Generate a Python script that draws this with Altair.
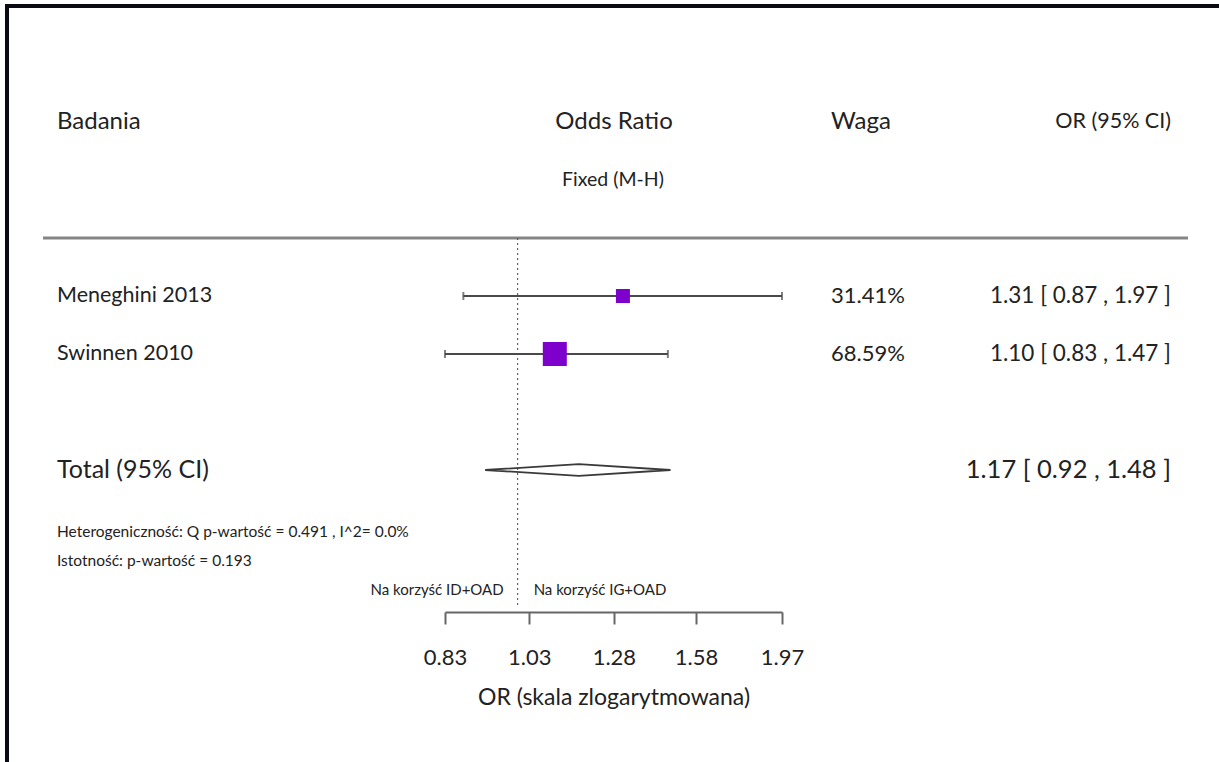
import altair as alt
import pandas as pd

# Study-level results
studies = ["Meneghini 2013", "Swinnen 2010"]
odds_ratio = [1.31, 1.10]
ci_low = [0.87, 0.83]
ci_high = [1.97, 1.47]
weights = [31.41, 68.59]

# Pooled (fixed effect, Mantel-Haenszel) result
total_label = "Total (95% CI)"
total_or = 1.17
total_low = 0.92
total_high = 1.48

axis_ticks = [0.83, 1.03, 1.28, 1.58, 1.97]

heterogeneity = "Heterogeniczność: Q p-wartość = 0.491 , I^2= 0.0%"
significance = "Istotność: p-wartość = 0.193"
favours_left = "Na korzyść ID+OAD"
favours_right = "Na korzyść IG+OAD"

FONT = "Lato"
TEXT = "#222222"
LINE = "#4a4a4a"
PURPLE = "#7d00cc"

W, H = 1219, 762

# ---- tables -------------------------------------------------------------
rows = list(range(len(studies)))
total_row = len(studies) + 1

study_df = pd.DataFrame({
    "study": studies,
    "or": odds_ratio,
    "lo": ci_low,
    "hi": ci_high,
    "weight": weights,
    "row": rows,
})
study_df["weight_txt"] = [f"{w:.2f}%" for w in weights]
study_df["ci_txt"] = [f"{o:.2f} [ {l:.2f} , {h:.2f} ]" for o, l, h in zip(odds_ratio, ci_low, ci_high)]

total_df = pd.DataFrame({
    "label": [total_label],
    "row": [total_row],
    "ci_txt": [f"{total_or:.2f} [ {total_low:.2f} , {total_high:.2f} ]"],
})

half = 0.1  # half height of the pooled diamond, in rows
diamond_df = pd.DataFrame({
    "or": [total_low, total_or, total_high, total_or, total_low],
    "row": [total_row, total_row - half, total_row, total_row + half, total_row],
    "k": [0, 1, 2, 3, 4],
})

null_df = pd.DataFrame({"or": [1.0]})

# ---- shared scales ------------------------------------------------------
x_scale = alt.Scale(type="log", domain=[min(axis_ticks), max(axis_ticks)], range=[445, 782])
y_scale = alt.Scale(domain=[0, 1], range=[296, 354])

x_axis = alt.Axis(
    values=axis_ticks, format=".2f", title="OR (skala zlogarytmowana)",
    orient="bottom", offset=-150, grid=False,
    domainColor="#666666", domainWidth=2, tickColor="#666666", tickWidth=2, tickSize=12,
    labelFont=FONT, labelFontSize=22, labelColor=TEXT, labelPadding=23,
    labelFlush=False, labelOverlap=False,
    titleFont=FONT, titleFontSize=23, titleFontWeight="normal", titleColor=TEXT, titlePadding=18,
)


def xq(field):
    return alt.X(f"{field}:Q", scale=x_scale, axis=x_axis)


def yq(field="row"):
    return alt.Y(f"{field}:Q", scale=y_scale, axis=None)


base = alt.Chart(study_df)

ci_lines = base.mark_rule(color=LINE, strokeWidth=2).encode(
    x=xq("lo"), x2="hi:Q", y=yq()
)

caps = base.transform_fold(["lo", "hi"], as_=["end", "val"]).mark_tick(
    orient="vertical", color=LINE, size=8, thickness=2
).encode(x=xq("val"), y=yq())

squares = base.mark_square(color=PURPLE, opacity=1).encode(
    x=xq("or"), y=yq(),
    size=alt.Size("weight:Q", scale=alt.Scale(domain=[min(weights), max(weights)], range=[196, 576]), legend=None),
)

diamond = alt.Chart(diamond_df).mark_line(color="#3a3a3a", strokeWidth=1.8).encode(
    x=xq("or"), y=yq(), order="k:Q"
)

null_line = alt.Chart(null_df).mark_rule(color=LINE, strokeWidth=1, strokeDash=[2, 3]).encode(
    x=xq("or"), y=alt.value(238), y2=alt.value(607)
)

fav_left = alt.Chart(null_df).mark_text(
    text=favours_left, font=FONT, fontSize=15, color=TEXT, align="right", baseline="middle", dx=-14
).encode(x=xq("or"), y=alt.value(590))

fav_right = alt.Chart(null_df).mark_text(
    text=favours_right, font=FONT, fontSize=15, color=TEXT, align="left", baseline="middle", dx=16
).encode(x=xq("or"), y=alt.value(590))

# ---- text columns -------------------------------------------------------
name_txt = base.mark_text(font=FONT, fontSize=21.5, color=TEXT, align="left", baseline="middle").encode(
    x=alt.value(57), y=yq(), text="study:N"
)
weight_txt = base.mark_text(font=FONT, fontSize=22, color=TEXT, align="left", baseline="middle").encode(
    x=alt.value(831), y=yq(), text="weight_txt:N"
)
ci_txt = base.mark_text(font=FONT, fontSize=22.5, color=TEXT, align="right", baseline="middle").encode(
    x=alt.value(1171), y=yq(), text="ci_txt:N"
)

tot = alt.Chart(total_df)
total_name = tot.mark_text(font=FONT, fontSize=25, color=TEXT, align="left", baseline="middle").encode(
    x=alt.value(57), y=yq(), text="label:N"
)
total_ci = tot.mark_text(font=FONT, fontSize=25.5, color=TEXT, align="right", baseline="middle").encode(
    x=alt.value(1171), y=yq(), text="ci_txt:N"
)


def label(text, x, y, size=20, align="left"):
    return alt.Chart(null_df).mark_text(
        text=text, font=FONT, fontSize=size, color=TEXT, align=align, baseline="middle"
    ).encode(x=alt.value(x), y=alt.value(y))


headers = [
    label("Badania", 57, 122, size=24),
    label("Odds Ratio", 614, 122, size=24, align="center"),
    label("Waga", 831, 122, size=24),
    label("OR (95% CI)", 1171, 122, size=21.5, align="right"),
    label("Fixed (M-H)", 613, 180, size=19.5, align="center"),
    label(heterogeneity, 57, 532, size=15.5),
    label(significance, 57, 561, size=15.5),
]

header_rule = alt.Chart(null_df).mark_rule(color="#858585", strokeWidth=3).encode(
    x=alt.value(43), x2=alt.value(1188), y=alt.value(238)
)

border_top = alt.Chart(null_df).mark_rule(color="#0a0a14", strokeWidth=4).encode(
    x=alt.value(5), x2=alt.value(W), y=alt.value(6)
)
border_left = alt.Chart(null_df).mark_rule(color="#0a0a14", strokeWidth=4).encode(
    x=alt.value(7), y=alt.value(4), y2=alt.value(H)
)

chart = alt.layer(
    border_top, border_left, header_rule, null_line,
    ci_lines, caps, squares, diamond,
    fav_left, fav_right,
    name_txt, weight_txt, ci_txt, total_name, total_ci,
    *headers,
).properties(
    width=W, height=H, padding=0, autosize=alt.AutoSizeParams(type="none"), background="white"
).configure_view(stroke=None)

chart.save("out.html", embed_options={"renderer": "svg", "actions": False})
